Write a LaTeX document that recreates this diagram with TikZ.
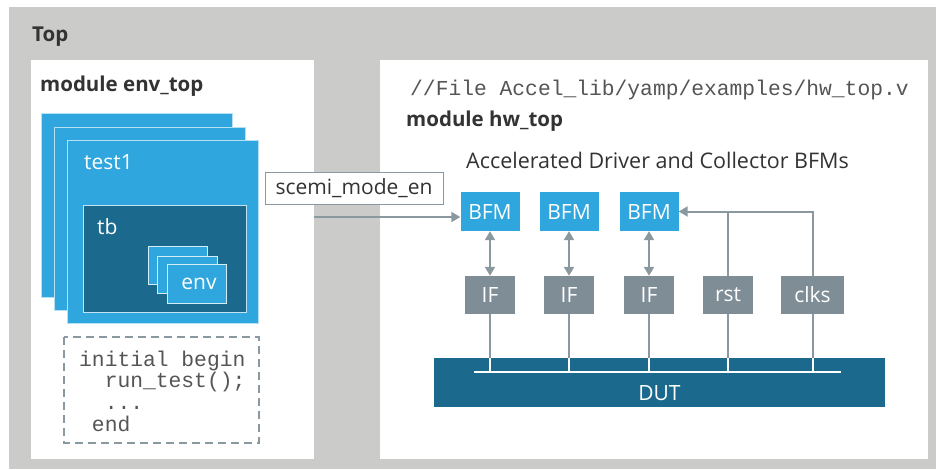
\documentclass[tikz,border=0pt]{standalone}
\usepackage{fontspec}
\setmainfont{Open Sans}
\newfontfamily\codefont{Liberation Mono}
\usetikzlibrary{arrows.meta}
\definecolor{topgray}{HTML}{CBCBCA}
\definecolor{bfmblue}{HTML}{2FA6DD}
\definecolor{tbblue}{HTML}{1B6A8E}
\definecolor{ifgray}{HTML}{7F8E96}
\definecolor{wiregray}{HTML}{8A98A0}
\definecolor{textdark}{HTML}{333333}
\definecolor{codegray}{HTML}{555555}
\begin{document}
\begin{tikzpicture}[x=1pt,y=-1pt,
    label/.style={anchor=west,inner sep=0pt,text=textdark,font=\fontsize{21}{24}\selectfont},
    title/.style={label,font=\fontsize{20.5}{24}\selectfont\bfseries},
    code/.style={anchor=west,inner sep=0pt,text=codegray,align=left,font=\fontsize{21.3}{21.7}\selectfont\codefont},
    stackbox/.style={fill=bfmblue,draw=white!65!bfmblue,line width=1pt},
    bfm/.style={fill=bfmblue,text=white,inner sep=0pt,minimum width=59pt,minimum height=39pt,font=\fontsize{21}{24}\selectfont},
    ifbox/.style={fill=ifgray,text=white,inner sep=0pt,minimum width=50pt,minimum height=38pt,font=\fontsize{21}{24}\selectfont},
    wire/.style={draw=wiregray,line width=2pt},
    tip/.style={-{Triangle[length=9pt,width=10pt]}}]
  \useasboundingbox (0,0) rectangle (936,469);
  \fill [topgray] (9,7) rectangle (936,469);
  \node [title] (top) at (32,37) {Top};
  \fill [white] (31,60) rectangle (314,459);
  \fill [white] (380,60) rectangle (928,459);
  \node [title] (envtop) at (40,86) {module env\_top};
  \draw [stackbox] (41,113) rectangle (232,297);
  \draw [stackbox] (54,127) rectangle (245,310);
  \draw [stackbox] (67,140) rectangle (258,323);
  \node [label,text=white] (test) at (84,162) {test1};
  \draw [fill=tbblue,draw=white!70!bfmblue,line width=1pt] (83,205) rectangle (246,312);
  \node [label,text=white] (tb) at (97,227) {tb};
  \draw [stackbox,draw=white!80!bfmblue] (148,246) rectangle (207,284);
  \draw [stackbox,draw=white!80!bfmblue] (157,256) rectangle (217,293);
  \draw [stackbox,draw=white!80!bfmblue] (167,264) rectangle (226,303);
  \node [label,text=white,anchor=center] (env) at (199,284) {env};
  \draw [wire,dash pattern=on 8pt off 5pt] (64,337) rectangle (259,443);
  \node [code] (init) at (79,391) {initial begin\\\phantom{xx}run\_test();\\\phantom{xx}...\\\phantom{x}end};
  \node [code] (file) at (410,90) {//File Accel\_lib/yamp/examples/hw\_top.v};
  \node [title] (hwtop) at (406,121) {module hw\_top};
  \node [label,font=\fontsize{21.5}{24}\selectfont] (accel) at (466,160) {Accelerated Driver and Collector BFMs};
  \node [fill=white,draw=wiregray,line width=1pt,minimum width=178pt,minimum height=32pt,inner sep=0pt,
    text=textdark,font=\fontsize{21}{24}\selectfont] (scemi) at (354,188) {scemi\_mode\_en};
  \node [bfm] (bfm1) at (490,211.5) {BFM};
  \node [bfm] (bfm2) at (569,211.5) {BFM};
  \node [bfm] (bfm3) at (649,211.5) {BFM};
  \node [ifbox] (if1) at (490,295) {IF};
  \node [ifbox] (if2) at (569,295) {IF};
  \node [ifbox] (if3) at (649,295) {IF};
  \node [ifbox] (rst) at (728,295) {rst};
  \node [ifbox,minimum width=63pt] (clks) at (812.5,295) {clks};
  \node [fill=tbblue,text=white,inner sep=0pt,minimum width=451pt,minimum height=49pt,
    font=\fontsize{21}{24}\selectfont,text depth=0pt] (dut) at (659.5,382.5) {\raisebox{-18pt}{DUT}};
  \coordinate (src) at (314,217);
  \coordinate (busl) at (474,372);
  \coordinate (busr) at (841,372);
  \draw [wire,tip] (src) -- (bfm1.west |- src);
  \draw [wire,{Triangle[length=9pt,width=10pt]}-{Triangle[length=9pt,width=10pt]}] (bfm1) -- (if1);
  \draw [wire,{Triangle[length=9pt,width=10pt]}-{Triangle[length=9pt,width=10pt]}] (bfm2) -- (if2);
  \draw [wire,{Triangle[length=9pt,width=10pt]}-{Triangle[length=9pt,width=10pt]}] (bfm3) -- (if3);
  \draw [wire,tip] (clks.north) |- (bfm3.east);
  \draw [wire] (rst.north) -- (rst.north |- bfm3.east);
  \draw [white,line width=2pt] (busl) -- (busr);
  \foreach \n in {if1,if2,if3,rst,clks} {
    \draw [wire] (\n.south) -- (\n.south |- dut.north);
    \draw [white,line width=2pt] (\n.south |- dut.north) -- (\n.south |- busl);
  }
\end{tikzpicture}
\end{document}
